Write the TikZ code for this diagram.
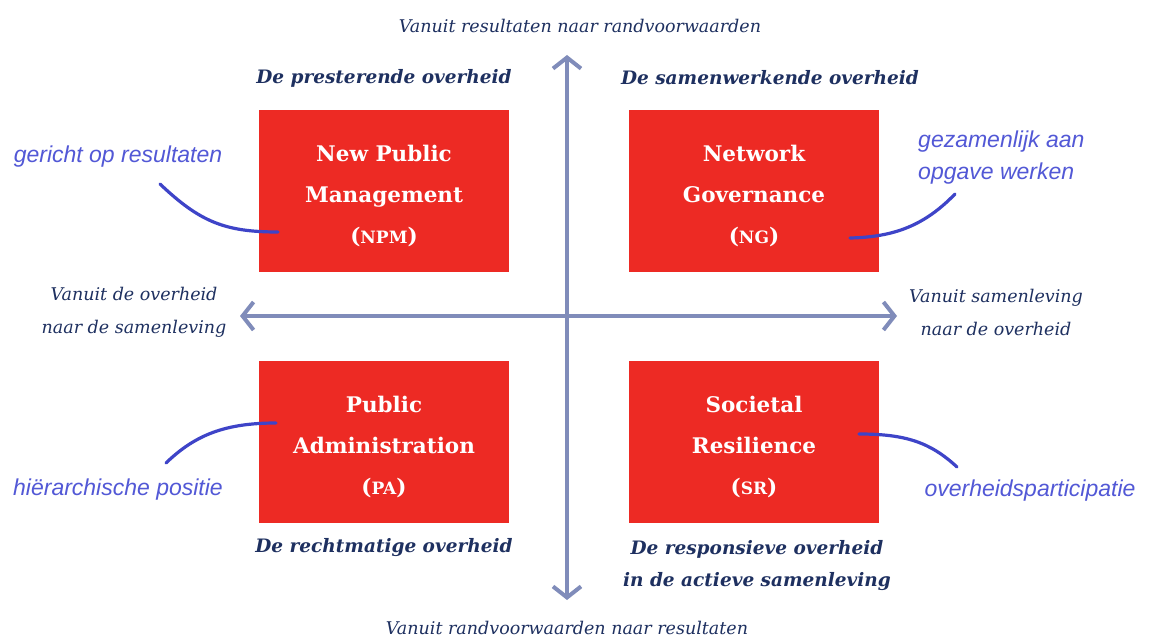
\documentclass[tikz,border=0pt]{standalone}
\usepackage{fontspec}
\usetikzlibrary{arrows.meta,calc}
\newfontfamily\boxfont{DejaVu Serif}
\newfontfamily\labfont{DejaVu Serif}
\newfontfamily\notefont{Liberation Sans}
\definecolor{boxred}{RGB}{237,42,36}
\definecolor{navy}{RGB}{30,48,96}
\definecolor{axisblue}{RGB}{128,140,186}
\definecolor{noteblue}{RGB}{82,88,214}
\definecolor{curveblue}{RGB}{62,68,200}
\newcommand{\toppad}{\rule{0pt}{26pt}}
\tikzset{
  quad/.style={fill=boxred, draw=none, minimum width=250pt, minimum height=162pt, inner sep=0pt,
    text=white, align=center, font=\boxfont\bfseries\fontsize{21.5}{41}\selectfont},
  title/.style={text=navy, font=\labfont\itshape\bfseries\fontsize{18.5}{32}\selectfont, align=center, inner sep=0pt},
  axlabel/.style={text=navy, font=\labfont\itshape\fontsize{17.5}{33}\selectfont, align=center, inner sep=0pt},
  note/.style={text=noteblue, font=\notefont\itshape\fontsize{23}{32}\selectfont, inner sep=0pt},
  axis/.style={draw=axisblue, line width=4pt, {Straight Barb[length=11pt,width=28pt,line width=4pt]}-{Straight Barb[length=11pt,width=28pt,line width=4pt]}},
  callout/.style={draw=curveblue, line width=3.2pt, line cap=round}
}
\begin{document}
\begin{tikzpicture}[x=1pt,y=-1pt]
\useasboundingbox[fill=white] (0,0) rectangle (1150,639);
% axes
\coordinate (top) at (567,55);
\coordinate (bottom) at (567,600);
\coordinate (left) at (240,316);
\coordinate (right) at (897,316);
\draw[axis] (top) -- (bottom);
\draw[axis] (left) -- (right);
% boxes
\node[quad] (npm) at (384,191) {\toppad New Public\\Management\\({\fontsize{17}{41}\selectfont NPM})};
\node[quad] (ng) at (754,191) {\toppad Network\\Governance\\({\fontsize{17}{41}\selectfont NG})};
\node[quad] (pa) at (384,442) {\toppad Public\\Administration\\({\fontsize{17}{41}\selectfont PA})};
\node[quad] (sr) at (754,442) {\toppad Societal\\Resilience\\({\fontsize{17}{41}\selectfont SR})};
% quadrant titles
\node[title] (t1) at (384,78) {De presterende overheid};
\node[title] (t2) at (770,78) {De samenwerkende overheid};
\node[title] (t3) at (384,548) {De rechtmatige overheid};
\node[title] (t4) at (757,566) {De responsieve overheid\\in de actieve samenleving};
% axis labels
\node[axlabel] (a1) at (580,26) {Vanuit resultaten naar randvoorwaarden};
\node[axlabel] (a2) at (567,628) {Vanuit randvoorwaarden naar resultaten};
\node[axlabel] (a3) at (134,312) {Vanuit de overheid\\naar de samenleving};
\node[axlabel] (a4) at (996,312) {Vanuit samenleving\\naar de overheid};
% notes
\node[note] (n1) at (118,157) {gericht op resultaten};
\node[note, align=left, anchor=west] (n2) at (918,158) {gezamenlijk aan\\opgave werken};
\node[note] (n3) at (118,490) {hiërarchische positie};
\node[note] (n4) at (1030,491) {overheidsparticipatie};
% callout curves
\coordinate (c1a) at (160,184);
\coordinate (c1b) at (278,232);
\coordinate (c2a) at (850,238);
\coordinate (c2b) at (955,194);
\coordinate (c3a) at (276,423);
\coordinate (c3b) at (166,463);
\coordinate (c4a) at (859,434);
\coordinate (c4b) at (957,467);
\draw[callout] (c1a) .. controls (200,222) and (225,232) .. (c1b);
\draw[callout] (c2a) .. controls (895,237) and (925,225) .. (c2b);
\draw[callout] (c3a) .. controls (225,423) and (195,435) .. (c3b);
\draw[callout] (c4a) .. controls (905,434) and (930,442) .. (c4b);
\end{tikzpicture}
\end{document}
